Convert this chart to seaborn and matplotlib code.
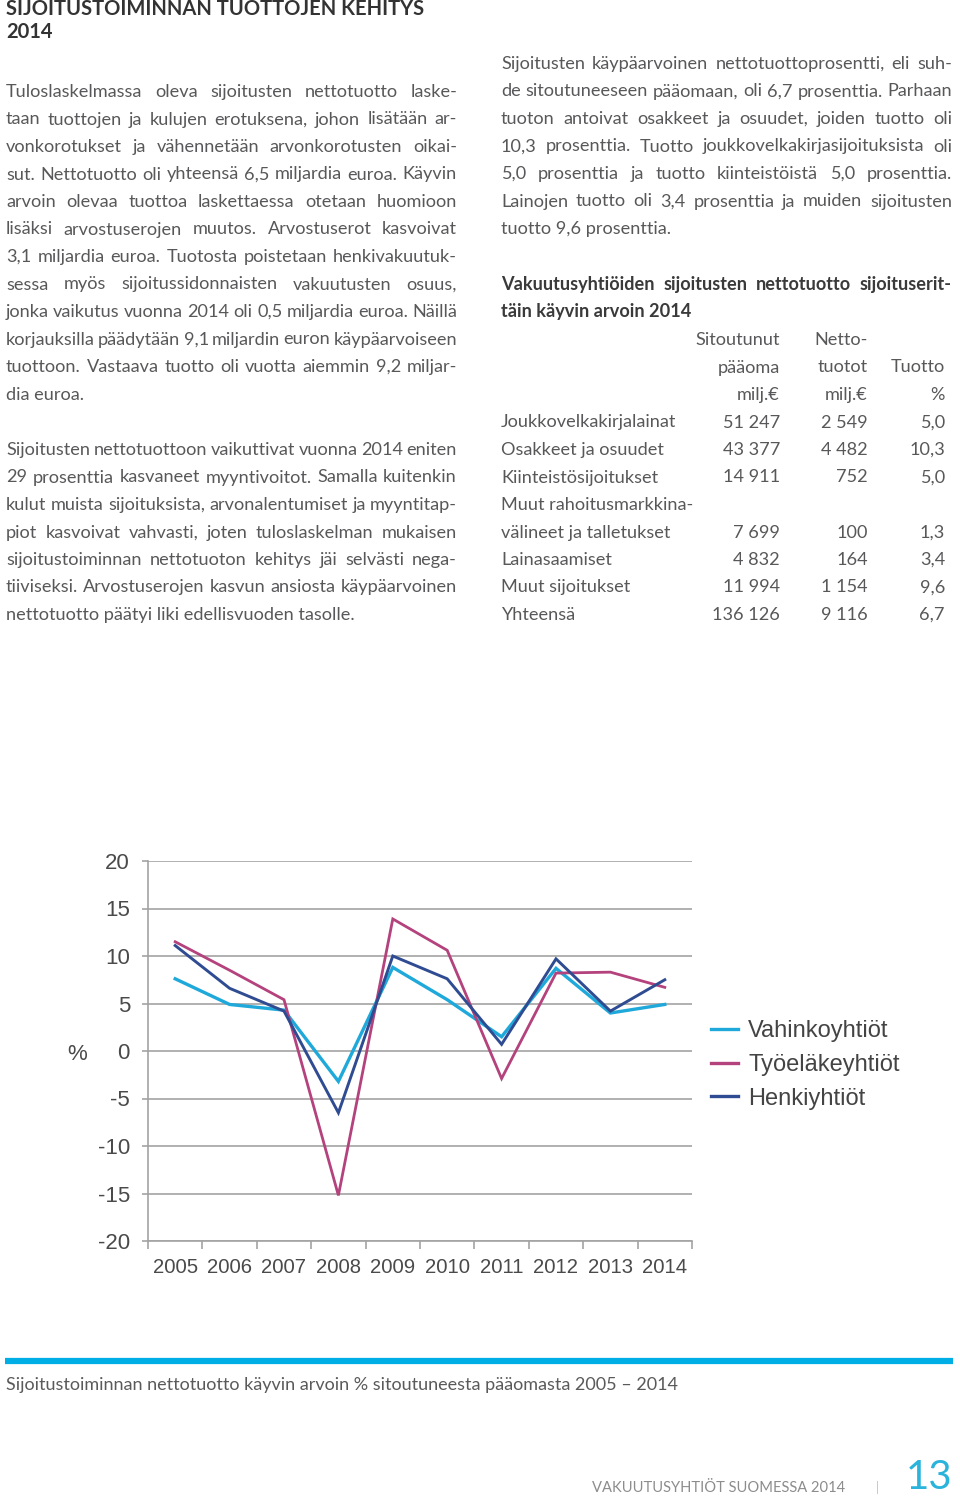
import matplotlib
matplotlib.use("Agg")
import matplotlib.pyplot as plt
import seaborn as sns
import pandas as pd
import numpy as np
from matplotlib.lines import Line2D

# ---------------- data ----------------
years = ["2005", "2006", "2007", "2008", "2009", "2010", "2011", "2012", "2013", "2014"]
vahinkoyhtiot = [7.6, 4.9, 4.3, -3.2, 8.8, 5.4, 1.5, 8.7, 4.0, 4.9]
tyoelakeyhtiot = [11.5, 8.5, 5.4, -15.2, 13.9, 10.6, -2.9, 8.2, 8.3, 6.7]
henkiyhtiot = [11.1, 6.6, 4.2, -6.5, 10.0, 7.6, 0.7, 9.7, 4.2, 7.5]
series_names = ["Vahinkoyhtiöt", "Työeläkeyhtiöt", "Henkiyhtiöt"]
series_colors = ["#1fa9da", "#b4427c", "#2f4c92"]
y_ticks = [20, 15, 10, 5, 0, -5, -10, -15, -20]

table_rows = ["Joukkovelkakirjalainat", "Osakkeet ja osuudet", "Kiinteistösijoitukset",
              "Muut rahoitusmarkkina-|välineet ja talletukset", "Lainasaamiset",
              "Muut sijoitukset", "Yhteensä"]
table_capital = ["51 247", "43 377", "14 911", "7 699", "4 832", "11 994", "136 126"]
table_netincome = ["2 549", "4 482", "752", "100", "164", "1 154", "9 116"]
table_return = ["5,0", "10,3", "5,0", "1,3", "3,4", "9,6", "6,7"]

left_para1 = [
    "Tuloslaskelmassa oleva sijoitusten nettotuotto laske-",
    "taan tuottojen ja kulujen erotuksena, johon lisätään ar-",
    "vonkorotukset ja vähennetään arvonkorotusten oikai-",
    "sut. Nettotuotto oli yhteensä 6,5 miljardia euroa. Käyvin",
    "arvoin olevaa tuottoa laskettaessa otetaan huomioon",
    "lisäksi arvostuserojen muutos. Arvostuserot kasvoivat",
    "3,1 miljardia euroa. Tuotosta poistetaan henkivakuutuk-",
    "sessa myös sijoitussidonnaisten vakuutusten osuus,",
    "jonka vaikutus vuonna 2014 oli 0,5 miljardia euroa. Näillä",
    "korjauksilla päädytään 9,1 miljardin euron käypäarvoiseen",
    "tuottoon. Vastaava tuotto oli vuotta aiemmin 9,2 miljar-",
    "dia euroa.",
]
left_para2 = [
    "Sijoitusten nettotuottoon vaikuttivat vuonna 2014 eniten",
    "29 prosenttia kasvaneet myyntivoitot. Samalla kuitenkin",
    "kulut muista sijoituksista, arvonalentumiset ja myyntitap-",
    "piot kasvoivat vahvasti, joten tuloslaskelman mukaisen",
    "sijoitustoiminnan nettotuoton kehitys jäi selvästi nega-",
    "tiiviseksi. Arvostuserojen kasvun ansiosta käypäarvoinen",
    "nettotuotto päätyi liki edellisvuoden tasolle.",
]
right_para = [
    "Sijoitusten käypäarvoinen nettotuottoprosentti, eli suh-",
    "de sitoutuneeseen pääomaan, oli 6,7 prosenttia. Parhaan",
    "tuoton antoivat osakkeet ja osuudet, joiden tuotto oli",
    "10,3 prosenttia. Tuotto joukkovelkakirjasijoituksista oli",
    "5,0 prosenttia ja tuotto kiinteistöistä 5,0 prosenttia.",
    "Lainojen tuotto oli 3,4 prosenttia ja muiden sijoitusten",
    "tuotto 9,6 prosenttia.",
]
table_title = ["Vakuutusyhtiöiden sijoitusten nettotuotto sijoituserit-",
               "täin käyvin arvoin 2014"]

# ---------------- figure ----------------
W, H = 960, 1496
fig = plt.figure(figsize=(W / 100, H / 100), dpi=100)
fig.patch.set_facecolor("white")
renderer = fig.canvas.get_renderer()

BODY_FONT = ["Lato", "DejaVu Sans"]
BODY_SIZE = 13.1
BODY_COLOR = "#58585a"
LH = 27.5


def fx(x):
    return x / W


def fy(y):
    return 1 - y / H


def measure(s, **kw):
    t = fig.text(0, 0, s, **kw)
    w = t.get_window_extent(renderer).width
    t.remove()
    return w


def put_line(s, x0, x1, yc, justify=True, **kw):
    kw.setdefault("family", BODY_FONT)
    kw.setdefault("fontsize", BODY_SIZE)
    kw.setdefault("color", BODY_COLOR)
    words = s.split(" ")
    yb = fy(yc + 6)
    if not justify or len(words) == 1:
        fig.text(fx(x0), yb, s, va="baseline", ha="left", **kw)
        return
    widths = [measure(w, **kw) for w in words]
    gap = (x1 - x0 - sum(widths)) / (len(words) - 1)
    x = x0
    for w, wd in zip(words, widths):
        fig.text(fx(x), yb, w, va="baseline", ha="left", **kw)
        x += wd + gap


def put_para(lines, x0, x1, y0, **kw):
    for i, s in enumerate(lines):
        put_line(s, x0, x1, y0 + i * LH, justify=(i < len(lines) - 1), **kw)


# title
fig.text(fx(6), fy(15), "SIJOITUSTOIMINNAN TUOTTOJEN KEHITYS", family=BODY_FONT,
         fontsize=14.5, fontweight="bold", color="#333333", va="baseline")
fig.text(fx(6), fy(38), "2014", family=BODY_FONT,
         fontsize=14.5, fontweight="bold", color="#333333", va="baseline")

# left column
put_para(left_para1, 6, 457, 91)
put_para(left_para2, 6, 457, 449)

# right column
put_para(right_para, 501, 952, 63)
put_para(table_title, 501, 952, 284, fontweight="bold", color="#3a3a3a")

# table header
hdr_kw = dict(family=BODY_FONT, fontsize=BODY_SIZE, color=BODY_COLOR, va="baseline", ha="right")
for i, s in enumerate(["Sitoutunut", "pääoma", "milj.€"]):
    fig.text(fx(780), fy(339 + i * LH + 6), s, **hdr_kw)
for i, s in enumerate(["Netto-", "tuotot", "milj.€"]):
    fig.text(fx(868), fy(339 + i * LH + 6), s, **hdr_kw)
for i, s in enumerate(["Tuotto", "%"]):
    fig.text(fx(945), fy(366.5 + i * LH + 6), s, **hdr_kw)

row_y = 421.5
for name, cap, inc, ret in zip(table_rows, table_capital, table_netincome, table_return):
    parts = name.split("|")
    if len(parts) == 2:
        put_line(parts[0], 501, 952, row_y, justify=False)
        row_y += LH
        name = parts[1]
    put_line(name, 501, 952, row_y, justify=False)
    fig.text(fx(780), fy(row_y + 6), cap, **hdr_kw)
    fig.text(fx(868), fy(row_y + 6), inc, **hdr_kw)
    fig.text(fx(945), fy(row_y + 6), ret, **hdr_kw)
    row_y += LH

# ---------------- chart ----------------
CHART_FONT = ["Liberation Sans", "DejaVu Sans"]
TICK_COLOR = "#4a4a4a"
GRID_COLOR = "#a3a3a3"

ax = fig.add_axes([fx(148), fy(1241), (692 - 148) / W, (1241 - 861) / H])
df = pd.DataFrame({
    "pos": list(range(len(years))) * 3,
    "value": vahinkoyhtiot + tyoelakeyhtiot + henkiyhtiot,
    "series": [n for n in series_names for _ in years],
})
sns.lineplot(data=df, x="pos", y="value", hue="series", hue_order=series_names,
             palette=dict(zip(series_names, series_colors)), linewidth=2.0,
             sort=False, ax=ax, legend=False)
for ln, lw in zip(ax.lines, [2.4, 2.0, 2.1]):
    ln.set_linewidth(lw)
    ln.set_solid_joinstyle("miter")

ax.set_xlim(-0.5, len(years) - 0.5)
ax.set_ylim(-20, 20)
ax.set_yticks(y_ticks)
ax.set_yticklabels([str(v) for v in y_ticks], family=CHART_FONT, fontsize=16, color=TICK_COLOR)
ax.set_xticks(range(len(years)))
ax.set_xticklabels(years, family=CHART_FONT, fontsize=14.6, color=TICK_COLOR)
ax.set_xticks(np.arange(-0.5, len(years), 1.0), minor=True)
ax.tick_params(axis="x", which="major", length=0, pad=12)
ax.tick_params(axis="x", which="minor", length=6, width=1.2, color=GRID_COLOR, direction="out")
ax.tick_params(axis="y", length=4, width=1.2, color=GRID_COLOR, pad=9)
ax.grid(axis="y", color=GRID_COLOR, linewidth=1.2)
ax.grid(axis="x", visible=False)
ax.set_axisbelow(True)
for side in ["top", "right"]:
    ax.spines[side].set_visible(False)
for side in ["left", "bottom"]:
    ax.spines[side].set_color(GRID_COLOR)
    ax.spines[side].set_linewidth(1.2)
ax.set_xlabel("")
ax.set_ylabel("%", rotation=0, family=CHART_FONT, fontsize=16, color=TICK_COLOR)
ax.yaxis.set_label_coords((77 - 148) / 544, (1241 - 1054) / 380)
ax.yaxis.label.set_verticalalignment("center")
ax.set_facecolor("white")

handles = [Line2D([0], [0], color=c, linewidth=2.4) for c in series_colors]
leg = ax.legend(handles, series_names, loc="upper left",
                bbox_to_anchor=(fx(711), fy(1020)), bbox_transform=fig.transFigure,
                frameon=False, prop={"family": CHART_FONT, "size": 17},
                handlelength=1.15, handletextpad=0.42, labelspacing=0.5,
                borderaxespad=0, borderpad=0)
for t in leg.get_texts():
    t.set_color("#444444")

# caption bar and caption
fig.add_artist(Line2D([fx(5), fx(953)], [fy(1361), fy(1361)], color="#00aee6",
                      linewidth=4.5, solid_capstyle="butt", transform=fig.transFigure))
fig.text(fx(6), fy(1390), "Sijoitustoiminnan nettotuotto käyvin arvoin % sitoutuneesta pääomasta 2005 – 2014",
         family=BODY_FONT, fontsize=13.0, color="#5a5a5a", va="baseline")

# footer
fig.text(fx(845), fy(1492), "VAKUUTUSYHTIÖT SUOMESSA 2014", family=BODY_FONT,
         fontsize=10.6, fontweight="normal", color="#8c8c8c", va="baseline", ha="right")
fig.text(fx(877), fy(1492), "|", family=BODY_FONT, fontsize=9, fontweight="normal",
         color="#8fd6ee", va="baseline", ha="center")
fig.text(fx(952), fy(1489), "13", family=BODY_FONT, fontsize=29, fontweight="normal",
         color="#2ab4dc", va="baseline", ha="right")

fig.savefig("out.png", dpi=100, facecolor="white")
